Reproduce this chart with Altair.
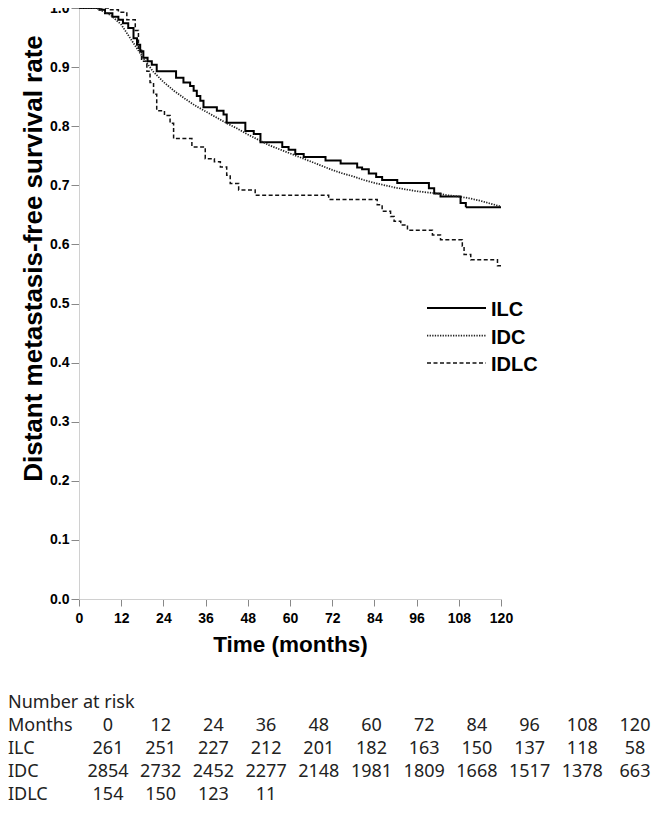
import altair as alt
import pandas as pd

series = ["ILC", "IDC", "IDLC"]

# Kaplan-Meier steps (months, survival)
ilc_t = [0, 5.8, 7.4, 9.5, 11.2, 12.5, 14.0, 15.5, 16.5, 17.4, 18.3, 19.5, 20.7, 22.1,
         27.6, 29.7, 31.6, 32.6, 33.5, 34.5, 35.4, 39.2, 41.1, 42.0, 47.3, 49.7, 51.6,
         57.8, 59.6, 61.5, 63.9, 70.1, 74.4, 79.1, 80.5, 82.4, 84.5, 86.2, 90.5, 99.5,
         101.0, 102.8, 108.5, 110.0, 120.0]
ilc_s = [1.0, 0.997, 0.991, 0.985, 0.980, 0.974, 0.966, 0.949, 0.938, 0.927, 0.916, 0.910, 0.904, 0.893,
         0.882, 0.874, 0.868, 0.860, 0.851, 0.843, 0.832, 0.826, 0.820, 0.806, 0.792, 0.787, 0.773,
         0.765, 0.760, 0.753, 0.748, 0.742, 0.737, 0.730, 0.727, 0.720, 0.714, 0.709, 0.704, 0.695,
         0.686, 0.681, 0.670, 0.663, 0.663]

idc_t = [0, 5, 6, 9, 12, 15, 18, 21, 24, 27, 30, 33, 36, 39, 42, 45, 48, 51, 54, 57, 60,
         63, 66, 69, 72, 75, 78, 81, 84, 87, 90, 93, 96, 99, 102, 105, 108, 111, 114, 117, 120]
idc_s = [1.0, 1.0, 0.997, 0.988, 0.972, 0.945, 0.918, 0.893, 0.875, 0.860, 0.847, 0.835, 0.825,
         0.815, 0.805, 0.796, 0.786, 0.777, 0.768, 0.761, 0.754, 0.747, 0.740, 0.733, 0.726,
         0.720, 0.715, 0.709, 0.704, 0.700, 0.696, 0.693, 0.690, 0.688, 0.686, 0.683, 0.681,
         0.678, 0.674, 0.669, 0.664]

idlc_t = [0, 8.3, 11.2, 13.6, 16.0, 16.9, 17.8, 19.3, 20.2, 21.2, 22.1, 24.3, 25.9, 26.9,
          32.1, 35.9, 38.5, 40.2, 42.0, 43.0, 45.4, 50.1, 71.0, 84.8, 86.2, 88.6, 89.6, 91.5,
          93.4, 100.5, 102.8, 109.0, 109.5, 111.4, 119.0, 120.0]
idlc_s = [1.0, 0.997, 0.993, 0.980, 0.962, 0.932, 0.910, 0.893, 0.874, 0.854, 0.826, 0.818, 0.805, 0.779,
          0.765, 0.745, 0.740, 0.731, 0.717, 0.703, 0.692, 0.683, 0.676, 0.667, 0.656, 0.647, 0.639, 0.633,
          0.624, 0.616, 0.608, 0.597, 0.583, 0.574, 0.564, 0.564]

x_ticks = [0, 12, 24, 36, 48, 60, 72, 84, 96, 108, 120]
y_ticks = [0.0, 0.1, 0.2, 0.3, 0.4, 0.5, 0.6, 0.7, 0.8, 0.9, 1.0]

# Number at risk table
risk_months = [0, 12, 24, 36, 48, 60, 72, 84, 96, 108, 120]
risk_ilc = [261, 251, 227, 212, 201, 182, 163, 150, 137, 118, 58]
risk_idc = [2854, 2732, 2452, 2277, 2148, 1981, 1809, 1668, 1517, 1378, 663]
risk_idlc = [154, 150, 123, 11]
row_names = ["Number at risk", "Months", "ILC", "IDC", "IDLC"]

# ---------- data frames ----------
steps_df = pd.concat([
    pd.DataFrame({"month": ilc_t, "surv": ilc_s, "series": "ILC"}),
    pd.DataFrame({"month": idlc_t, "surv": idlc_s, "series": "IDLC"}),
])
idc_df = pd.DataFrame({"month": idc_t, "surv": idc_s, "series": "IDC"})

table_rows = []
for m in risk_months:
    table_rows.append({"row": "Months", "month": m, "txt": str(m)})
for name, vals in (("ILC", risk_ilc), ("IDC", risk_idc), ("IDLC", risk_idlc)):
    for m, v in zip(risk_months, vals):
        table_rows.append({"row": name, "month": m, "txt": str(v)})
table_df = pd.DataFrame(table_rows)
label_df = pd.DataFrame({"row": row_names})
leg_df = pd.DataFrame({"series": series})

# ---------- shared style scales ----------
dash_enc = alt.StrokeDash("series:N", scale=alt.Scale(domain=series, range=[[1, 0], [1.3, 1.3], [4, 2.5]]), legend=None)
color_enc = alt.Color("series:N", scale=alt.Scale(domain=series, range=["#000000", "#222222", "#111111"]), legend=None)
width_enc = alt.StrokeWidth("series:N", scale=alt.Scale(domain=series, range=[2.0, 1.5, 1.6]), legend=None)

x_axis = alt.Axis(values=x_ticks, title="Time (months)", grid=False,
                  labelFont="Liberation Sans", labelFontWeight="bold", labelFontSize=14,
                  labelColor="#000", labelPadding=5, tickSize=7, tickColor="#888",
                  domainColor="#d0d0d0", titleFont="Liberation Sans", titleFontWeight="bold",
                  titleFontSize=22.5, titleColor="#000", titlePadding=8, labelFlush=False)
y_axis = alt.Axis(values=y_ticks, format=".1f", title="Distant metastasis-free survival rate", grid=False,
                  labelFont="Liberation Sans", labelFontWeight="bold", labelFontSize=14,
                  labelColor="#000", labelPadding=2, tickSize=8, tickColor="#888",
                  domainColor="#d0d0d0", titleFont="Liberation Sans", titleFontWeight="bold",
                  titleFontSize=26, titleColor="#000", titlePadding=3, titleY=250, labelFlush=False)

x_sc = alt.Scale(domain=[0, 120], nice=False, zero=False)
y_sc = alt.Scale(domain=[0, 1], nice=False)

steps = alt.Chart(steps_df).mark_line(interpolate="step-after").encode(
    x=alt.X("month:Q", scale=x_sc, axis=x_axis),
    y=alt.Y("surv:Q", scale=y_sc, axis=y_axis),
    detail="series:N",
    strokeDash=dash_enc, color=color_enc, strokeWidth=width_enc,
)
idc_line = alt.Chart(idc_df).mark_line(interpolate="linear").encode(
    x=alt.X("month:Q", scale=x_sc, axis=None),
    y=alt.Y("surv:Q", scale=y_sc, axis=None),
    strokeDash=dash_enc, color=color_enc, strokeWidth=width_enc,
)

# ---------- legend ----------
leg_y = alt.Y("series:N", scale=alt.Scale(type="point", domain=series, range=[300, 355], padding=0), axis=None)
leg_rules = alt.Chart(leg_df).mark_rule().encode(
    x=alt.value(348), x2=alt.value(407), y=leg_y,
    strokeDash=dash_enc, color=color_enc, strokeWidth=width_enc,
)
leg_text = alt.Chart(leg_df).mark_text(align="left", baseline="middle", font="Liberation Sans",
                                        fontWeight="bold", fontSize=20, color="#000", dy=2).encode(
    x=alt.value(412), y=leg_y, text="series:N",
)

# ---------- number at risk table ----------
tab_y = alt.Y("row:N", scale=alt.Scale(type="point", domain=row_names, range=[695, 787], padding=0), axis=None)
tab_x = alt.X("month:Q", scale=alt.Scale(domain=[0, 120], range=[29, 556]), axis=None)
tab_nums = alt.Chart(table_df).mark_text(align="center", baseline="middle", font="Noto Sans",
                                          fontSize=18, color="#222").encode(
    x=tab_x, y=tab_y, text="txt:N",
)
tab_labels = alt.Chart(label_df).mark_text(align="left", baseline="middle", font="Noto Sans",
                                            fontSize=18, color="#222").encode(
    x=alt.value(-71), y=tab_y, text="row:N",
)

chart = alt.layer(steps, idc_line, leg_rules, leg_text, tab_nums, tab_labels).resolve_scale(
    x="independent", y="independent"
).properties(
    width=422, height=591,
    padding={"left": 71, "top": 0, "right": 154, "bottom": 206},
    autosize=alt.AutoSizeParams(type="none"),
).configure_view(stroke=None)

chart.save("out.html", embed_options={"renderer": "svg", "actions": False})
